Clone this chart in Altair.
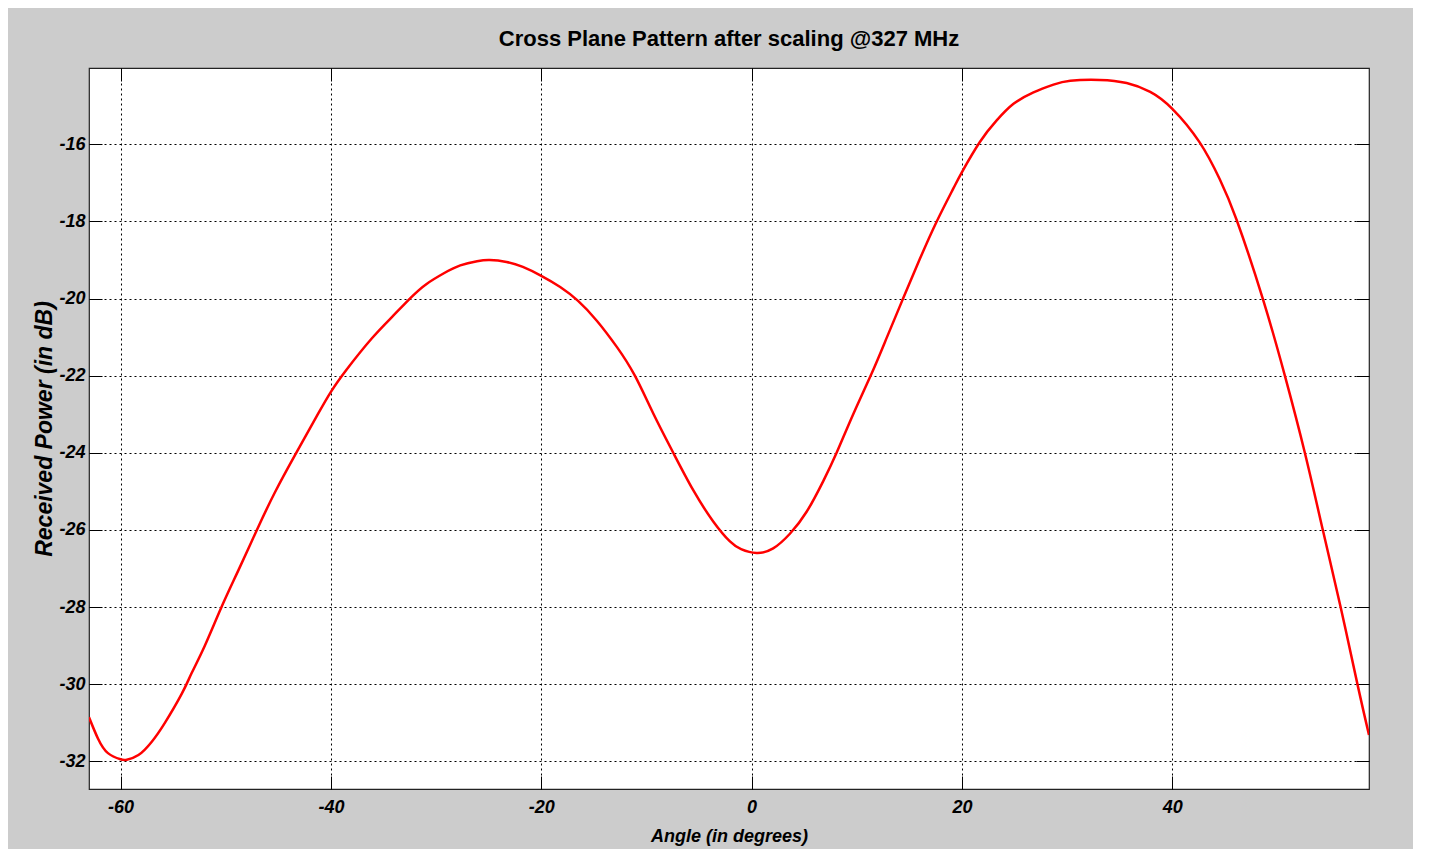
import altair as alt
import pandas as pd

# ---- data ----
angle = [-63.0, -62.15, -61.2, -60.0, -59.4, -58.3, -57.05, -55.8, -54.2, -53.25,
         -52.0, -50.4, -48.8, -47.07, -45.33, -43.27, -41.2, -40.0, -38.5, -36.1,
         -34.2, -32.3, -30.9, -29.3, -27.7, -26.1, -24.9, -23.3, -21.75, -20.0,
         -18.2, -16.5, -14.7, -12.8, -11.1, -9.35, -7.45, -5.55, -3.65, -2.06,
         -1.0, 0.47, 2.05, 3.64, 5.23, 6.8, 8.08, 9.66, 11.4, 12.84,
         14.4, 16.0, 17.6, 19.17, 20.0, 21.7, 23.3, 24.9, 26.8, 28.7,
         30.3, 33.1, 35.66, 37.9, 40.0, 42.6, 44.5, 46.1, 48.6, 50.7,
         52.6, 54.35, 56.0, 57.6, 58.7]
power = [-30.86, -31.41, -31.79, -31.95, -31.96, -31.84, -31.50, -31.01, -30.26, -29.72,
         -29.01, -28.0, -27.05, -26.02, -25.03, -23.99, -22.98, -22.42, -21.84, -21.03,
         -20.48, -19.95, -19.62, -19.35, -19.14, -19.03, -19.0, -19.05, -19.18, -19.41,
         -19.7, -20.06, -20.58, -21.26, -22.0, -22.98, -24.0, -24.97, -25.78, -26.3,
         -26.5, -26.6, -26.48, -26.1, -25.53, -24.74, -24.0, -23.0, -21.95, -21.02,
         -20.0, -18.97, -18.0, -17.15, -16.72, -15.94, -15.38, -14.95, -14.65, -14.45,
         -14.35, -14.33, -14.41, -14.64, -15.08, -15.95, -16.9, -17.95, -20.0, -22.0,
         -24.0, -26.05, -28.0, -30.0, -31.32]

x_ticks = [-60, -40, -20, 0, 20, 40]
y_ticks = [-32, -30, -28, -26, -24, -22, -20, -18, -16]
x_domain = [-63.0, 58.7]
y_domain = [-32.72, -14.02]

title_text = "Cross Plane Pattern after scaling @327 MHz"
x_title = "Angle (in degrees)"
y_title = "Received Power (in dB)"

df = pd.DataFrame({"angle": angle, "power": power})

FONT = "Liberation Sans, Arial, sans-serif"

xscale = alt.Scale(domain=x_domain, nice=False, zero=False)
yscale = alt.Scale(domain=y_domain, nice=False, zero=False)

common_label = dict(labelFont=FONT, labelFontSize=18, labelFontStyle="italic",
                    labelFontWeight="bold", labelColor="black", labelFlush=False,
                    labelExpr="'' + datum.value", minExtent=0)

line = alt.Chart(df).mark_line(
    color="#ff0000", strokeWidth=2.5, interpolate="natural", clip=True
).encode(
    x=alt.X("angle:Q", scale=xscale,
            axis=alt.Axis(orient="bottom", values=x_ticks, offset=-13, tickSize=13,
                          tickColor="black", tickWidth=1, domain=False,
                          grid=True, gridColor="black", gridDash=[2, 3], gridWidth=1,
                          labelPadding=9, title=x_title, titleFont=FONT,
                          titleFontSize=18, titleFontStyle="italic",
                          titleFontWeight="bold", titleColor="black", titlePadding=11,
                          **common_label)),
    y=alt.Y("power:Q", scale=yscale,
            axis=alt.Axis(orient="left", values=y_ticks, offset=-13, tickSize=13,
                          tickColor="black", tickWidth=1, domain=False,
                          grid=True, gridColor="black", gridDash=[2, 3], gridWidth=1,
                          labelPadding=4, title=y_title, titleFont=FONT,
                          titleFontSize=23, titleFontStyle="italic",
                          titleFontWeight="bold", titleColor="black", titlePadding=2,
                          **common_label)),
)

mirror = alt.Chart(df).mark_line(opacity=0).encode(
    x=alt.X("angle:Q", scale=xscale,
            axis=alt.Axis(orient="top", values=x_ticks, offset=-13, tickSize=13,
                          tickColor="black", tickWidth=1, domain=False, grid=False,
                          labels=False, title=None, minExtent=0)),
    y=alt.Y("power:Q", scale=yscale,
            axis=alt.Axis(orient="right", values=y_ticks, offset=-13, tickSize=13,
                          tickColor="black", tickWidth=1, domain=False, grid=False,
                          labels=False, title=None, minExtent=0)),
)

chart = alt.layer(mirror, line).resolve_axis(
    x="independent", y="independent"
).properties(
    width=1280,
    height=721,
    title=alt.TitleParams(text=title_text, font=FONT, fontSize=22,
                          fontWeight="bold", color="black", anchor="middle",
                          frame="group", baseline="bottom", offset=14, dy=19),
    background="#cccccc",
    padding={"left": 81, "top": 60, "right": 44, "bottom": 60},
    autosize=alt.AutoSizeParams(type="none"),
).configure_view(
    fill="white", stroke="#222222", strokeWidth=1.2
)

chart.save("out.html", embed_options={"renderer": "svg", "actions": False})
